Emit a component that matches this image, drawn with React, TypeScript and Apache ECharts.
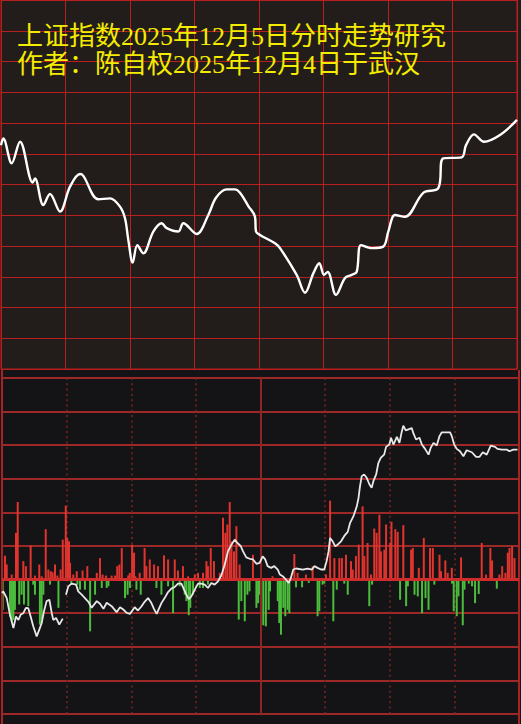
import React, { useEffect, useRef } from 'react';
import * as echarts from 'echarts';

const TITLE_LINES = ['上证指数2025年12月5日分时走势研究', '作者：陈自权2025年12月4日于武汉'];

// Top panel: forecast curve [minute, grid units]
const forecastLine = [
  [0, 7.28], [1.07, 7.5], [4.98, 6.69], [8.84, 7.39], [14.74, 6.06], [15.81, 6.2], [19.67, 5.33], [22.79, 5.69],
  [27.44, 5.12], [32.09, 5.93], [36.74, 6.34], [38.28, 6.28], [45.26, 5.52], [50.7, 5.55], [55.35, 5.28], [57.67, 4.9],
  [59.21, 4.2], [61.26, 3.46], [63.4, 4.03], [66.19, 3.76], [70.84, 4.47], [74.74, 4.74], [77.07, 4.58], [82.47, 4.47],
  [84.79, 4.74], [91.02, 4.39], [96.42, 5.01], [100.0, 5.57], [104.98, 5.84], [108.84, 5.84], [111.16, 5.73], [115.02, 5.3],
  [118.14, 4.95], [118.6, 4.47], [120.47, 4.36], [127.44, 4.09], [129.77, 3.93], [137.53, 3.06], [141.4, 2.48], [145.26, 3.11],
  [148.05, 3.44], [150.23, 3.06], [151.95, 3.16], [155.81, 2.41], [160.0, 2.96], [163.12, 3.06], [165.44, 3.16], [167.44, 4.03],
  [172.42, 3.93], [177.81, 3.98], [180.14, 4.47], [183.26, 5.01], [187.91, 4.95], [196.42, 5.73], [203.4, 5.88], [205.72, 6.85],
  [214.28, 6.88], [216.28, 7.28], [220.0, 7.63], [224.65, 7.39], [232.09, 7.61], [240, 8.1],
];

// Bottom panel: intraday price line [minute, grid units]
const intradayLine = [
  [0, -0.4], [0.6, -0.35], [1.4, -0.45], [2.2, -0.55], [3.7, -1.05], [5.3, -1.44], [6.5, -1.1], [7.6, -1.2], [8.7, -1.04],
  [9.9, -1.0], [11.1, -0.84], [12.2, -0.85], [13.3, -1.1], [14.5, -1.39], [16.1, -1.69], [17.3, -1.49], [18.4, -1.3],
  [19.5, -0.94], [20.7, -0.64], [22.0, -0.6], [23.1, -1.0], [23.8, -1.2], [25.1, -1.14], [26.6, -1.34], [28.2, -1.16],
  [29, null],
  [29.7, -0.45], [30.8, -0.2], [32.3, -0.12], [34.4, -0.15], [35.4, -0.35], [37.0, -0.45], [38.5, -0.55], [40.1, -0.66],
  [41.6, -0.84], [44.0, -0.64], [45.5, -0.72], [47.1, -0.87], [48.6, -0.69], [50.9, -0.79], [53.2, -0.97], [54.8, -0.82],
  [56.3, -0.89], [57.9, -0.99], [59.4, -1.02], [61.6, -0.82], [63.1, -0.92], [64.7, -0.8], [66.2, -0.66], [67.8, -0.55],
  [69.3, -0.69], [70.6, -0.88], [71.8, -1.02], [74.0, -0.7], [75.5, -0.55], [77.1, -0.37], [78.6, -0.27], [80.2, -0.22],
  [81.7, -0.12], [83.3, -0.12], [84.5, -0.3], [85.6, -0.45], [86.7, -0.58], [87.9, -0.5], [89.5, -0.3], [91.0, -0.12],
  [92.5, -0.12], [94.1, -0.15], [95.6, -0.25], [97.2, -0.1], [98.7, -0.15], [100.3, -0.05], [101.8, 0.12], [103.4, 0.45],
  [104.9, 0.84], [106.5, 1.04], [108.0, 1.19], [109.3, 1.09], [110.8, 1.0], [111.9, 0.84], [113.4, 0.66], [115.0, 0.62],
  [116.5, 0.6], [118.1, 0.47], [119.6, 0.5], [121.0, 0.69], [122.2, 0.6], [123.3, 0.4], [124.9, 0.35], [126.4, 0.4],
  [128.0, 0.3], [129.0, 0.15], [130.3, 0.1], [131.8, 0], [133.1, -0.1], [134.1, 0.05], [135.2, 0.3], [136.5, 0.33],
  [139.6, 0.3], [141.9, 0.33], [143.9, 0.3], [145.0, 0.4], [146.5, 0.35], [148.1, 0.3], [149.6, 0.3], [150.7, 0.55],
  [151.6, 0.84], [152.3, 1.24], [153.5, 1.14], [154.7, 0.99], [155.8, 1.04], [157.4, 1.14], [158.9, 1.3], [160.5, 1.42],
  [161.6, 1.69], [163.1, 1.88], [164.7, 2.18], [165.5, 2.43], [166.2, 2.78], [167.0, 3.08], [168.1, 3.13], [169.3, 3.03],
  [170.6, 2.83], [171.6, 2.73], [172.4, 2.93], [173.7, 3.13], [174.7, 3.47], [175.8, 3.62], [177.4, 3.72], [178.3, 3.95],
  [179.8, 4.02], [180.6, 4.22], [181.7, 4.02], [183.3, 4.25], [184.5, 4.07], [185.6, 4.41], [186.3, 4.58], [187.4, 4.44],
  [189.0, 4.48], [190.2, 4.51], [191.0, 4.35], [192.2, 4.17], [193.8, 4.22], [194.9, 4.02], [196.4, 3.89], [198.0, 3.72],
  [199.0, 3.92], [200.3, 4.07], [201.8, 3.99], [203.1, 4.27], [204.1, 4.38], [205.7, 4.38], [208.0, 4.38], [208.8, 4.27],
  [209.9, 4.02], [211.1, 3.89], [212.6, 3.82], [214.2, 3.67], [215.7, 3.85], [218.1, 3.79], [220.1, 3.65], [221.6, 3.65],
  [223.2, 3.79], [225.0, 3.72], [226.9, 3.99], [228.9, 3.95], [230.0, 3.89], [232.0, 3.87], [234.3, 3.87], [235.5, 3.82],
  [237.4, 3.87], [239.3, 3.87],
];

// Bottom panel: buying volume (red, up)
const upVolume = [
  [1.4, 0.71], [2.2, 0.45], [4.5, 0.15], [6.5, 1.39], [7.3, 2.31], [9.9, 0.55], [11.1, 0.4], [13.3, 1.02], [15.3, 0.12],
  [17.3, 0.45], [18.4, 0.1], [20.3, 1.5], [21.5, 0.3], [22.6, 0.25], [23.5, 0.22], [24.6, 0.45], [25.7, 0.12], [27.2, 0.3],
  [28.2, 1.19], [29.6, 2.2], [30.3, 1.24], [31.1, 1.14], [31.6, 0.5], [33.1, 0.15], [34.7, 0.25], [37.4, 0.27], [39.6, 0.4],
  [44.0, 0.2], [45.5, 0.64], [46.7, 0.15], [48.3, 0.12], [50.9, 0.12], [52.5, 0.12], [53.5, 0.4], [54.5, 0.45], [55.6, 0.94],
  [58.6, 0.12], [59.3, 0.2], [60.4, 1.04], [61.3, 0.8], [61.9, 0.1], [63.9, 0.2], [66.2, 0.94], [67.0, 0.4], [68.6, 0.6],
  [70.6, 0.45], [72.4, 0.4], [75.2, 0.72], [77.1, 0.6], [80.2, 0.6], [81.7, 0.27], [84.0, 0.4], [86.4, 0.1], [89.5, 0.15],
  [91.0, 0.2], [93.3, 0.2], [94.9, 0.55], [95.6, 0.4], [96.9, 0.94], [98.4, 0.55], [101.1, 0.2], [102.6, 1.84], [103.7, 1.39],
  [104.6, 1.64], [105.7, 2.31], [106.5, 1.14], [107.7, 0.84], [108.8, 1.59], [110.3, 0.45], [116.5, 0.74], [125.6, 0.1],
  [135.7, 0.76], [137.2, 0.2], [141.1, 0.15], [144.2, 0.4], [150.4, 0.15], [152.3, 2.35], [154.3, 0.64], [156.6, 0.64],
  [157.8, 0.64], [159.7, 0.74], [162.0, 0.55], [162.8, 0.3], [164.3, 0.7], [165.6, 1.04], [167.4, 2.18], [168.2, 0.7],
  [169.7, 1.09], [171.3, 0.15], [172.8, 1.52], [173.9, 1.39], [175.2, 1.93], [175.9, 0.84], [177.5, 0.89], [178.3, 1.64],
  [180.2, 1.09], [180.8, 1.72], [182.6, 1.5], [183.7, 1.42], [186.3, 1.62], [189.9, 0.89], [190.7, 0.94], [193.5, 0.35],
  [195.8, 1.24], [198.7, 0.94], [200.0, 0.94], [203.1, 0.74], [203.8, 0.25], [205.8, 0.57], [206.9, 0.2], [208.8, 0.35],
  [213.1, 0.66], [222.7, 1.09], [224.7, 0.15], [226.7, 0.94], [227.5, 0.57], [230.9, 0.15], [232.2, 0.4], [233.7, 0.2],
  [234.8, 0.8], [235.6, 0.94], [236.8, 0.99], [237.9, 0.64],
];

// Bottom panel: selling volume (green, down)
const downVolume = [
  [0.3, -0.9], [3.7, -1.1], [4.6, -1.25], [5.3, -1.2], [6.0, -0.9], [8.0, -0.74], [9.1, -0.45], [10.2, -0.74], [12.2, -0.79],
  [14.5, -0.15], [15.3, -0.45], [17.6, -1.34], [18.4, -1.19], [19.2, -0.45], [22.3, -0.15], [26.2, -0.84], [32.2, -0.15],
  [35.0, -0.15], [36.2, -0.3], [38.5, -0.3], [40.9, -1.54], [43.2, -0.45], [46.3, -0.25], [48.6, -0.25], [49.4, -0.2],
  [57.1, -0.55], [58.3, -0.45], [59.4, -0.25], [62.4, -0.3], [64.4, -0.45], [71.7, -0.25], [74.0, -0.45], [77.1, -0.2],
  [79.4, -1.0], [82.5, -0.2], [84.8, -0.45], [85.6, -0.64], [86.7, -1.06], [87.4, -0.84], [88.7, -0.45], [91.8, -0.25],
  [93.3, -0.25], [95.6, -0.15], [109.9, -1.19], [111.1, -0.64], [112.7, -1.24], [113.9, -0.45], [114.9, -0.35], [118.1, -0.84],
  [118.9, -0.7], [119.4, -0.45], [121.3, -1.36], [122.5, -1.39], [123.8, -0.9], [124.4, -0.35], [128.0, -0.64], [128.7, -1.29],
  [129.5, -1.64], [130.6, -0.84], [131.5, -1.09], [132.6, -0.9], [133.4, -1.0], [136.5, -0.23], [139.3, -0.23], [142.4, -0.1],
  [146.5, -1.09], [147.3, -0.94], [148.8, -0.15], [149.6, -0.12], [153.8, -1.24], [155.4, -0.3], [158.9, -0.12], [160.5, -0.45],
  [170.5, -0.79], [171.8, -0.15], [184.8, -0.6], [187.6, -0.79], [188.4, -0.2], [191.5, -0.45], [193.0, -0.5], [195.0, -1.0],
  [196.6, -0.55], [198.0, -0.9], [200.7, -0.15], [208.9, -0.12], [209.7, -0.94], [211.1, -1.09], [211.9, -0.5], [213.9, -1.36],
  [214.7, -0.3], [216.7, -0.12], [218.2, -0.2], [219.6, -0.7], [221.3, -0.43], [229.7, -0.27],
];

const TOP_BG = '#221c1a';
const BOTTOM_BG = '#141416';
const TOP_GRID = '#b81f1f';
const BOTTOM_GRID = '#9c2828';
const TITLE_FONT = '"Liberation Serif", "Noto Sans CJK SC"';

export default function App() {
  const ref = useRef<HTMLDivElement>(null);
  useEffect(() => {
    document.body.style.margin = '0';
    const chart = echarts.init(ref.current as HTMLDivElement, null, { renderer: 'svg' });
    const hidden = { show: false };
    chart.setOption({
      animation: false,
      backgroundColor: BOTTOM_BG,
      graphic: [
        { type: 'rect', z: -10, silent: true, shape: { x: 0, y: 0, width: 521, height: 370 }, style: { fill: TOP_BG } },
        { type: 'line', z: 5, silent: true, shape: { x1: 2, y1: 370, x2: 2, y2: 724 }, style: { stroke: '#a82424', lineWidth: 2 } },
        { type: 'line', z: 5, silent: true, shape: { x1: 519, y1: 370, x2: 519, y2: 724 }, style: { stroke: '#a82424', lineWidth: 2 } },
        {
          type: 'text', z: 100, x: 17, y: 36,
          style: { text: TITLE_LINES[0], fill: '#f4ec00', fontSize: 26, lineHeight: 26, fontFamily: TITLE_FONT, verticalAlign: 'middle' },
        },
        {
          type: 'text', z: 100, x: 17, y: 64,
          style: { text: TITLE_LINES[1], fill: '#f4ec00', fontSize: 26, lineHeight: 26, fontFamily: TITLE_FONT, verticalAlign: 'middle' },
        },
      ],
      grid: [
        { left: 1, top: 0, width: 516, height: 369, show: true, borderColor: TOP_GRID, borderWidth: 1, backgroundColor: 'transparent' },
        { left: 2, top: 378, width: 517, height: 336 },
      ],
      xAxis: [
        {
          gridIndex: 0, type: 'value', min: 0, max: 240, interval: 30,
          axisLine: hidden, axisTick: hidden, axisLabel: hidden,
          splitLine: { show: true, lineStyle: { color: TOP_GRID, width: 1 } },
        },
        {
          gridIndex: 1, type: 'value', min: 0, max: 240, interval: 30,
          axisLine: hidden, axisTick: hidden, axisLabel: hidden,
          splitLine: { show: true, showMinLine: false, showMaxLine: false, lineStyle: { color: '#7d2424', width: 1.5, type: [2, 3.3] } },
        },
      ],
      yAxis: [
        {
          gridIndex: 0, type: 'value', min: 0, max: 12, interval: 1,
          axisLine: hidden, axisTick: hidden, axisLabel: hidden,
          splitLine: { show: true, lineStyle: { color: TOP_GRID, width: 1 } },
        },
        {
          gridIndex: 1, type: 'value', min: -4, max: 6, interval: 1,
          axisLine: hidden, axisTick: hidden, axisLabel: hidden,
          splitLine: { show: true, lineStyle: { color: BOTTOM_GRID, width: 2 } },
        },
      ],
      series: [
        {
          type: 'line', xAxisIndex: 0, yAxisIndex: 0, data: forecastLine, smooth: 0.35, symbol: 'none',
          lineStyle: { color: '#ffffff', width: 2.4 }, z: 4,
        },
        {
          type: 'bar', xAxisIndex: 1, yAxisIndex: 1, data: upVolume, barWidth: 2, barGap: '-100%',
          itemStyle: { color: '#e2342e' },
        },
        {
          type: 'bar', xAxisIndex: 1, yAxisIndex: 1, data: downVolume, barWidth: 2, barGap: '-100%',
          itemStyle: { color: '#4cbc3c' },
        },
        {
          type: 'line', xAxisIndex: 1, yAxisIndex: 1, data: intradayLine, symbol: 'none', connectNulls: false,
          lineStyle: { color: '#e8e8e8', width: 1.8 }, z: 5,
          markLine: {
            silent: true, symbol: 'none', label: { show: false },
            data: [
              { yAxis: 0, lineStyle: { color: '#d02c2c', width: 3, type: 'solid' } },
              { xAxis: 120, lineStyle: { color: '#8e2424', width: 2, type: 'solid' } },
            ],
          },
        },
      ],
    });
    return () => chart.dispose();
  }, []);
  return <div ref={ref} style={{ width: 521, height: 724 }} />;
}
